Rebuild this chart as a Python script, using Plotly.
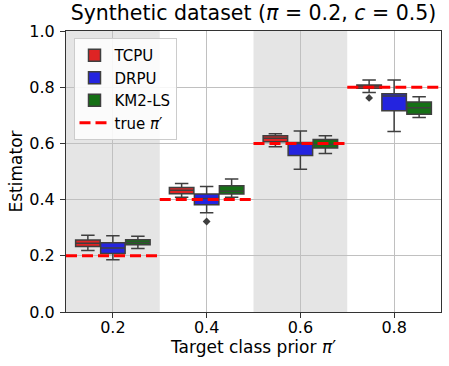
import plotly.graph_objects as go

# ---- data ----
categories = ["0.2", "0.4", "0.6", "0.8"]
true_prior = [0.2, 0.4, 0.6, 0.8]
methods = ["TCPU", "DRPU", "KM2-LS"]
colors = ["#df2424", "#2424df", "#157015"]

tcpu_lower = [0.219, 0.408, 0.588, 0.781]
tcpu_q1 = [0.233, 0.421, 0.606, 0.796]
tcpu_med = [0.245, 0.433, 0.618, 0.804]
tcpu_q3 = [0.256, 0.443, 0.627, 0.808]
tcpu_upper = [0.273, 0.457, 0.634, 0.826]

drpu_lower = [0.186, 0.353, 0.508, 0.642]
drpu_q1 = [0.208, 0.382, 0.557, 0.716]
drpu_med = [0.228, 0.404, 0.600, 0.769]
drpu_q3 = [0.246, 0.420, 0.603, 0.777]
drpu_upper = [0.271, 0.447, 0.644, 0.826]

km2_lower = [0.226, 0.408, 0.564, 0.692]
km2_q1 = [0.239, 0.420, 0.584, 0.704]
km2_med = [0.247, 0.430, 0.596, 0.727]
km2_q3 = [0.257, 0.449, 0.614, 0.747]
km2_upper = [0.270, 0.473, 0.627, 0.766]

# outliers: (method index, category index, value)
outlier_method = [0, 1]
outlier_cat = [3, 1]
outlier_val = [0.762, 0.322]

stats = [
    (tcpu_lower, tcpu_q1, tcpu_med, tcpu_q3, tcpu_upper),
    (drpu_lower, drpu_q1, drpu_med, drpu_q3, drpu_upper),
    (km2_lower, km2_q1, km2_med, km2_q3, km2_upper),
]

group_width = 0.8
n = len(methods)
bw = group_width / n
offsets = [(-group_width / 2 + bw / 2 + k * bw) for k in range(n)]
edge = "#3f3f3f"

fig = go.Figure()

for k, (name, col, st) in enumerate(zip(methods, colors, stats)):
    lo, q1, med, q3, up = st
    xs = [i + offsets[k] for i in range(len(categories))]
    fig.add_trace(go.Box(
        name=name, x=xs, q1=q1, median=med, q3=q3,
        lowerfence=lo, upperfence=up,
        fillcolor=col, line=dict(color=edge, width=1.5),
        width=bw * 0.98, whiskerwidth=0.55, boxpoints=False,
        legendgroup=name,
    ))

fig.add_trace(go.Scatter(
    x=[outlier_cat[j] + offsets[outlier_method[j]] for j in range(len(outlier_val))],
    y=outlier_val, mode="markers",
    marker=dict(symbol="diamond", size=6, color=edge),
    showlegend=False, hoverinfo="skip",
))

lx, ly = [], []
for i, p in enumerate(true_prior):
    lx += [i - 0.5, i + 0.5, None]
    ly += [p, p, None]
fig.add_trace(go.Scatter(
    x=lx, y=ly, mode="lines", name="true <i>π</i>′",
    line=dict(color="#ff0000", width=3, dash="11px,5px"),
))

shapes = []
for i in range(len(categories)):
    if i % 2 == 0:
        shapes.append(dict(type="rect", xref="x", yref="paper",
                           x0=i - 0.5, x1=i + 0.5, y0=0, y1=1,
                           fillcolor="#e5e5e5", line=dict(width=0), layer="below"))

fig.update_layout(
    width=449, height=366,
    margin=dict(l=66, r=8, t=31, b=54),
    plot_bgcolor="white", paper_bgcolor="white",
    font=dict(family="DejaVu Sans", size=16, color="black"),
    title=dict(text="Synthetic dataset (<i>π</i> = 0.2, <i>c</i> = 0.5)",
               xref="paper", x=0.5, xanchor="center", y=0.9655, yanchor="middle",
               font=dict(size=20.5)),
    shapes=shapes,
    boxmode="overlay",
    showlegend=True,
    legend=dict(x=0.02, y=0.975, xanchor="left", yanchor="top",
                bgcolor="rgba(255,255,255,0.85)", bordercolor="#cccccc",
                borderwidth=1, font=dict(size=15), tracegroupgap=0,
                itemwidth=30),
    xaxis=dict(range=[-0.5, 3.5], tickvals=list(range(len(categories))),
               ticktext=categories, showgrid=True, gridcolor="#c0c0c0",
               gridwidth=1, showline=True, linecolor="#333333", linewidth=1.2,
               mirror=True, ticks="outside", ticklen=5, tickcolor="#333333",
               ticklabelstandoff=-4,
               zeroline=False, automargin=False,
               title=dict(text="Target class prior <i>π</i>′", standoff=0,
                          font=dict(size=17))),
    yaxis=dict(range=[0, 1.0], tickvals=[0, 0.2, 0.4, 0.6, 0.8, 1.0],
               ticktext=["0.0", "0.2", "0.4", "0.6", "0.8", "1.0"],
               showgrid=True, gridcolor="#c0c0c0", gridwidth=1,
               showline=True, linecolor="#333333", linewidth=1.2, mirror=True,
               ticks="outside", ticklen=5, tickcolor="#333333", zeroline=False,
               ticklabelstandoff=2,
               automargin=False,
               title=dict(text="Estimator", standoff=2, font=dict(size=17))),
)

fig.write_html("out.html",
               config={"displayModeBar": False},
               post_script="document.body.style.margin='0px';"
                           "document.body.style.overflow='hidden';")
